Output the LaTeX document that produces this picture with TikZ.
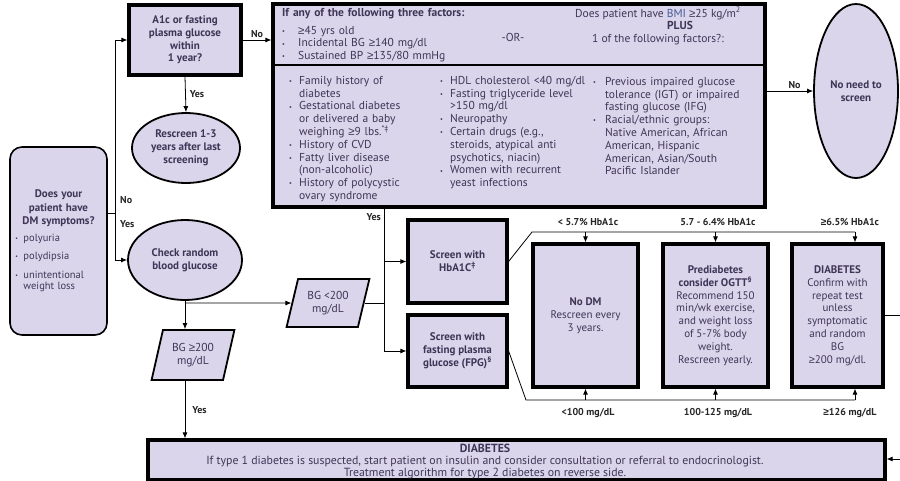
\documentclass[tikz,border=0pt]{standalone}
\usepackage{fontspec}
\setmainfont{PT Sans}
\newfontfamily\gefont{Liberation Sans}
\usepackage{graphicx}
\usepackage{tikz}
\usetikzlibrary{positioning,shapes.geometric,arrows.meta}

\definecolor{boxfill}{RGB}{219,213,236}
\definecolor{ink}{RGB}{62,54,86}
\definecolor{bmiblue}{RGB}{70,90,150}

\newcommand{\gq}{{\gefont ≥}}
\newcommand{\bul}{\raisebox{0.9pt}{\scalebox{0.55}{•}}}
\newcommand{\itm}[2][10pt]{{\let\\\newline\hangindent=#1\hangafter=1\noindent\makebox[#1][l]{\bul}#2\par}}
\newcommand{\boxfont}{\fontsize{11}{12.8}\selectfont\bfseries}
\newcommand{\listfont}{\fontsize{11.5}{12.8}\selectfont}

\begin{document}
\begin{tikzpicture}[x=1pt,y=-1pt,
  heavybox/.style={draw=black,line width=3.2pt,fill=boxfill,text=ink,align=center,inner sep=2pt},
  oval/.style={ellipse,draw=black,line width=1.8pt,fill=boxfill,text=ink,align=center,inner sep=1pt,font=\boxfont},
  slant/.style={trapezium,trapezium left angle=73,trapezium right angle=107,trapezium stretches=true,
    draw=black,line width=1.8pt,fill=boxfill,text=ink,align=center,font=\listfont},
  conn/.style={line width=0.8pt,-{Latex[length=6pt,width=5pt]}},
  lbl/.style={font=\fontsize{10}{12}\selectfont\bfseries,text=black!85,inner sep=1pt},
  txt/.style={anchor=north west,inner sep=0pt,text=ink,font=\listfont}]
\useasboundingbox[fill=white] (0,0) rectangle (900,480);

\node[draw=black,line width=1.6pt,rounded corners=12pt,fill=boxfill,text=ink,
  minimum width=97,minimum height=188,text width=86,inner sep=3pt] (symp) at (58.5,241)
  {{\centering\bfseries\fontsize{11}{13.5}\selectfont Does your\\patient have\\DM symptoms?\par}
   \vspace{5pt}{\fontsize{10.5}{11.5}\selectfont\raggedright
   \itm[8pt]{polyuria}\vspace{7pt}\itm[8pt]{polydipsia}\vspace{7pt}\itm[8pt]{unintentional\\weight loss}}};

\node[heavybox,minimum width=112,minimum height=70,font=\boxfont] (a1c) at (185,40)
  {A1c or fasting\\plasma glucose\\within\\1 year?};
\node[oval,minimum width=108,minimum height=70] (rescr) at (186,148)
  {Rescreen 1-3\\years after last\\screening};
\node[oval,minimum width=114,minimum height=80] (check) at (185,260)
  {Check random\\blood glucose};
\node[slant,minimum width=83,minimum height=50] (bghi) at (193,355) {BG \gq200\\mg/dL};
\node[slant,minimum width=83,minimum height=48] (bglo) at (328,303) {BG <200\\mg/dL};

\node[heavybox,minimum width=492,minimum height=203] (risk) at (519,105.5) {};
\draw[line width=1.3pt] (risk.west |- 0,65) -- (risk.east |- 0,65);
\node[txt,text width=210] (three) at (282,8)
  {\raggedright\textbf{If any of the following three factors:}\par\vspace{5pt}
   \itm[16pt]{\gq45 yrs old}\itm[16pt]{Incidental BG \gq140 mg/dl}\itm[16pt]{Sustained BP \gq135/80 mmHg}};
\node[text=ink,font=\listfont] (ornode) at (513,37) {-OR-};
\node[text=ink,font=\listfont,align=center,inner sep=0pt] (bmi) at (658,26)
  {Does patient have {\color{bmiblue}BMI} \gq25 kg/m\textsuperscript{2}\\
   \hspace*{44pt}\textbf{PLUS}\\1 of the following factors?:};
\node[txt,text width=150] (colA) at (289,76)
  {\raggedright\itm{Family history of\\diabetes}\itm{Gestational diabetes\\or delivered a baby\\weighing \gq9 lbs.\textsuperscript{*‡}}
   \itm{History of CVD}\itm{Fatty liver disease\\(non-alcoholic)}\itm{History of polycystic\\ovary syndrome}};
\node[txt,text width=150] (colB) at (440,76)
  {\raggedright\itm{HDL cholesterol <40 mg/dl}\itm{Fasting triglyceride level\\>150 mg/dl}\itm{Neuropathy}
   \itm{Certain drugs (e.g.,\\steroids, atypical anti\\psychotics, niacin)}\itm{Women with recurrent\\yeast infections}};
\node[txt,text width=170] (colC) at (593,77)
  {\raggedright\itm[12pt]{Previous impaired glucose\\tolerance (IGT) or impaired\\fasting glucose (IFG)}
   \itm[12pt]{Racial/ethnic groups:\\Native American, African\\American, Hispanic\\American, Asian/South\\Pacific Islander}};

\node[oval,minimum width=84,minimum height=174] (noscr) at (856,91) {No need to\\screen};

\node[heavybox,minimum width=99,minimum height=83,font=\boxfont] (hba) at (457.5,261.5)
  {Screen with\\HbA1C\textsuperscript{‡}};
\node[heavybox,minimum width=99,minimum height=72,font=\boxfont] (fpg) at (457.5,351)
  {Screen with\\fasting plasma\\glucose (FPG)\textsuperscript{§}};

\node[heavybox,minimum width=105,minimum height=143,font=\fontsize{11}{12.8}\selectfont] (nodm) at (585.5,315.5)
  {\textbf{No DM}\\Rescreen every\\3 years.};
\node[heavybox,minimum width=105,minimum height=143,font=\fontsize{11}{12.8}\selectfont] (pre) at (715.5,315.5)
  {\textbf{Prediabetes}\\\textbf{consider OGTT\textsuperscript{§}}\\Recommend 150\\min/wk exercise,\\and weight loss\\of 5-7\% body\\weight.\\Rescreen yearly.};
\node[heavybox,minimum width=91,minimum height=143,font=\fontsize{11}{12.8}\selectfont] (diab) at (837.5,315.5)
  {\textbf{DIABETES}\\Confirm with\\repeat test\\unless\\symptomatic\\and random\\BG\\\gq200 mg/dl.};

\node[heavybox,minimum width=737,minimum height=40] (dm) at (516.5,460) {};
\node[text=ink,align=center,inner sep=0pt,font=\fontsize{11.8}{12}\selectfont] (dmtxt) at (485,461.5)
  {\textbf{DIABETES}\\If type 1 diabetes is suspected, start patient on insulin and consider consultation or referral to endocrinologist.\\Treatment algorithm for type 2 diabetes on reverse side.};

\node[lbl] (lbA) at (588,222) {< 5.7\% HbA1c};
\node[lbl] (lbB) at (718,222) {5.7 - 6.4\% HbA1c};
\node[lbl] (lbC) at (850,222) {\gq6.5\% HbA1c};
\node[lbl] (lbD) at (588,413) {<100 mg/dL};
\node[lbl] (lbE) at (718,413) {100-125 mg/dL};
\node[lbl] (lbF) at (850,413) {\gq126 mg/dL};

\coordinate (jn) at (115,213);
\coordinate (tj) at (185,303);
\coordinate (ys) at (384,207);
\coordinate (tl) at (532,232);
\coordinate (tr) at (855,232);
\coordinate (bl) at (526,400);
\coordinate (br) at (855,400);
\coordinate (offr) at (900,315.5);
\coordinate (offb) at (900,459);

\draw[line width=0.8pt] (symp.east |- jn) -- (jn);
\draw[conn] (jn) |- (a1c.west);
\draw[conn] (jn) |- (check.west);
\node[lbl,anchor=west] (no0) at (119,200) {No};
\node[lbl,anchor=west] (yes0) at (119,224) {Yes};
\draw[conn] (a1c.east) -- (a1c.east -| risk.west) node[lbl,midway,above=1pt] (no1) {No};
\draw[conn] (a1c.south) -- (rescr.north) node[lbl,midway,right=3pt] (yes1) {Yes};
\draw[conn] (risk.east |- noscr.west) -- (noscr.west) node[lbl,pos=0.6,above=1pt] (no2) {No};
\draw[line width=0.8pt] (check.south) -- (tj);
\draw[conn] (tj) -- (tj |- bghi.north);
\draw[conn] (tj) -- (bglo.west);
\draw[conn] (tj |- bghi.south) -- (tj |- dm.north) node[lbl,midway,right=6pt] (yes3) {Yes};
\draw[line width=0.8pt] (bglo.east) -- (bglo.east -| ys);
\draw[line width=0.8pt] (ys) -- (ys |- fpg.west);
\node[lbl,anchor=east] (yes2) at (382,217) {Yes};
\draw[conn] (ys |- hba.west) -- (hba.west);
\draw[conn] (ys |- fpg.west) -- (fpg.west);
\draw[line width=0.8pt] (hba.east) -- (tl) -- (tr);
\draw[conn] (tl -| nodm) -- (nodm.north);
\draw[conn] (tl -| pre) -- (pre.north);
\draw[conn] (tr) -- (tr |- diab.north);
\draw[line width=0.8pt] (fpg.east) -- (bl) -- (br);
\draw[conn] (bl -| nodm) -- (nodm.south);
\draw[conn] (bl -| pre) -- (pre.south);
\draw[conn] (br) -- (br |- diab.south);
\draw[line width=0.8pt] (diab.east) -- (offr);
\draw[conn] (offb) -- (offb -| dm.east);
\end{tikzpicture}
\end{document}
